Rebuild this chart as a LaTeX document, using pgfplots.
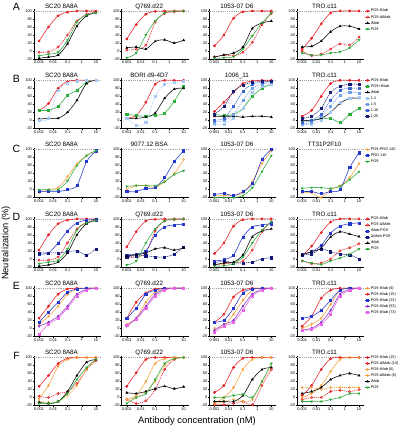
\documentclass[border=0pt]{standalone}
\usepackage{pgfplots}
\pgfplotsset{compat=1.18}
\usepackage{fontspec}
\setmainfont{Liberation Sans}

\definecolor{cRed}{RGB}{230,30,35}
\definecolor{cGreen}{RGB}{45,170,60}
\definecolor{cBlue}{RGB}{35,55,205}
\definecolor{cNavy}{RGB}{20,25,125}
\definecolor{cOrange}{RGB}{245,160,60}
\definecolor{cPurple}{RGB}{140,50,200}
\definecolor{cPink}{RGB}{230,100,230}
\definecolor{cLBa}{RGB}{165,200,240}
\definecolor{cLBb}{RGB}{115,160,230}
\definecolor{cLBc}{RGB}{60,100,210}
\definecolor{cLBd}{RGB}{20,30,120}

% x values are log10 of the concentration (nM): 0.001 ... 10
\newcommand\ser[8]{\addplot[#1] coordinates {(-3,#2) (-2.337,#3) (-1.658,#4) (-1,#5) (-0.337,#6) (0.342,#7) (1,#8)};}
\newcommand\hl{\addplot[forget plot, gray!70, line width=0.4pt, dash pattern=on 1.2pt off 1pt, mark=none, sharp plot] coordinates {(-3.357,100) (1.357,100)};}

\pgfplotsset{
 every axis plot/.append style={line width=0.55pt, mark size=1.1pt, smooth},
 dshA/.style={dash pattern=on 1.2pt off 0.8pt},
 stR/.style={cRed, mark=*, solid},
 stRo/.style={cRed, mark=o, dshA, mark options={solid, fill=white}},
 stK/.style={black, mark=triangle*, solid, mark options={solid}},
 stG/.style={cGreen, mark=triangle*, solid, mark options={solid, rotate=180}},
 stGm/.style={cGreen, mark=square*, solid, mark options={solid}},
 stBa/.style={cLBa, mark=square*, dshA, mark options={solid}},
 stBb/.style={cLBb, mark=square*, dshA, mark options={solid}},
 stBc/.style={cLBc, mark=square*, dshA, mark options={solid}},
 stBd/.style={cLBd, mark=square*, dshA, mark options={solid}},
 stO/.style={cOrange, mark=diamond, solid, mark options={solid, fill=white}},
 stP/.style={cBlue, mark=square*, solid, mark options={solid}},
 stN/.style={cNavy, mark=square*, dshA, mark options={solid}},
 stEa/.style={cOrange, mark=diamond*, solid},
 stEb/.style={cRed, mark=*, solid},
 stEc/.style={cBlue, mark=square*, solid},
 stEd/.style={cPurple, mark=diamond*, solid},
 stEe/.style={cPink, mark=square*, solid},
 stOf/.style={cOrange, mark=diamond*, solid},
 stOo/.style={cOrange, mark=diamond, dshA, mark options={solid, fill=white}},
 legend image code/.code={\draw[mark repeat=2,mark phase=2,#1] plot coordinates {(0pt,0pt) (2.6pt,0pt) (5.2pt,0pt)};},
 every axis title/.style={at={(0.41,1)}, anchor=base, yshift=0.9pt, inner sep=0pt, font=\fontsize{6.3}{7}\selectfont},
 every axis/.append style={
  scale only axis, width=67pt, height=50pt,
  xmin=-3.357, xmax=1.357, ymin=-20, ymax=105,
  axis x line*=bottom, axis y line*=left,
  axis line style={line width=0.5pt, -},
  xtick={-3,-2,-1,0,1}, xticklabels={0.001,0.01,0.1,1,10},
  ytick={-20,0,20,40,60,80,100},
  tick align=outside, major tick length=1.3pt, tick style={line width=0.4pt, black},
  tick label style={font=\fontsize{3.9}{4.2}\selectfont, inner sep=0.6pt},
  clip=false,
  legend style={at={(1.01,1.006)}, anchor=north west, draw=none, fill=none,
    font=\fontsize{3.8}{4.1}\selectfont, row sep=1.4pt, inner sep=0pt, outer sep=0pt,
    nodes={inner sep=0.4pt, text height=2.9pt, text depth=0.9pt}},
  legend cell align=left,
  yticklabel style={/pgf/number format/assume math mode=true},
  anchor=south west,
 },
}

\begin{document}
\begin{tikzpicture}[x=1pt,y=1pt]
\useasboundingbox (0,0) rectangle (402,-428);

% Row letters
\foreach \L/\Y in {A/7,B/79,C/149,D/217,E/286,F/356}{
  \node[font=\fontsize{10.5}{11}\selectfont] at (16.5,-\Y) {\L};
}
\node[rotate=90, font=\fontsize{9.3}{10}\selectfont] at (6,-243) {Neutralization (\%)};
\node[font=\fontsize{9.4}{10}\selectfont] at (197,-421) {Antibody concentration (nM)};

% ---------------- Row A ----------------
\begin{axis}[at={(34pt,-59pt)}, title={SC20 8A8A}]
\hl
\ser{stR}{25}{60}{88}{97}{100}{100}{100}
\ser{stRo}{-3}{-2}{10}{40}{75}{92}{97}
\ser{stK}{-18}{-15}{-10}{18}{62}{88}{96}
\ser{stG}{-12}{-8}{-3}{27}{72}{90}{96}
\end{axis}
\begin{axis}[at={(121.7pt,-59pt)}, title={Q769.d22}]
\hl
\ser{stR}{30}{66}{92}{99}{100}{100}{100}
\ser{stRo}{3}{4}{15}{72}{94}{98}{100}
\ser{stK}{8}{10}{5}{24}{28}{20}{27}
\ser{stG}{-17}{-5}{40}{75}{95}{99}{100}
\end{axis}
\begin{axis}[at={(209.4pt,-59pt)}, title={1053-07 D6}]
\hl
\ser{stR}{13}{40}{82}{98}{100}{100}{100}
\ser{stRo}{-15}{-10}{-12}{-3}{22}{65}{94}
\ser{stK}{-15}{-10}{-5}{10}{56}{70}{75}
\ser{stG}{-18}{-17}{-14}{5}{38}{70}{95}
\end{axis}
\begin{axis}[at={(297.1pt,-59pt)}, title={TRO.c11},
  legend entries={PG9-iMab, PG9-ΔiMab, iMab, PG9}]
\hl
\ser{stR}{5}{32}{68}{95}{100}{100}{100}
\ser{stRo}{0}{-12}{-8}{5}{18}{15}{35}
\ser{stK}{10}{12}{25}{48}{62}{62}{55}
\ser{stG}{-5}{-10}{-10}{-5}{-2}{8}{28}
\end{axis}

% ---------------- Row B ----------------
\begin{axis}[at={(34pt,-128.3pt)}, title={SC20 8A8A}]
\hl
\ser{stR}{25}{42}{80}{97}{100}{100}{100}
\ser{stGm}{25}{25}{35}{62}{75}{95}{100}
\ser{stK}{3}{5}{5}{20}{50}{92}{100}
\ser{stBa}{0}{5}{75}{92}{98}{100}{100}
\end{axis}
\begin{axis}[at={(121.7pt,-128.3pt)}, title={BORI d9-4D7}]
\hl
\ser{stR}{5}{12}{45}{90}{100}{100}{100}
\ser{stGm}{15}{12}{10}{12}{18}{48}{86}
\ser{stK}{5}{5}{8}{18}{55}{78}{80}
\ser{stBa}{5}{-12}{-5}{60}{90}{95}{97}
\end{axis}
\begin{axis}[at={(209.4pt,-128.3pt)}, title={1006\_11}]
\hl
\ser{stR}{22}{45}{70}{92}{98}{100}{100}
\ser{stGm}{15}{12}{15}{30}{60}{80}{90}
\ser{stK}{10}{10}{10}{8}{10}{10}{8}
\ser{stBa}{-10}{-10}{5}{30}{70}{85}{90}
\ser{stBb}{-5}{0}{15}{50}{80}{90}{95}
\ser{stBc}{0}{5}{35}{72}{90}{95}{97}
\ser{stBd}{15}{35}{72}{88}{95}{97}{98}
\end{axis}
\begin{axis}[at={(297.1pt,-128.3pt)}, title={TRO.c11},
  legend entries={PG9-iMab, PG9+iMab, iMab, 1:1, 1:5, 1:10, 1:25}]
\hl
\ser{stR}{10}{25}{60}{92}{100}{100}{100}
\ser{stGm}{0}{0}{3}{5}{-5}{15}{30}
\ser{stK}{0}{0}{5}{20}{42}{55}{55}
\ser{stBa}{-10}{-10}{0}{20}{45}{55}{57}
\ser{stBb}{-10}{-5}{10}{35}{62}{70}{68}
\ser{stBc}{-5}{0}{15}{50}{75}{80}{80}
\ser{stBd}{5}{10}{30}{70}{85}{90}{90}
\end{axis}

% ---------------- Row C ----------------
\begin{axis}[at={(34pt,-197.6pt)}, title={SC20 8A8A}]
\hl
\ser{stO}{-8}{0}{5}{32}{65}{85}{97}
\ser{stP}{-5}{-5}{-5}{0}{10}{70}{97}
\ser{stG}{0}{0}{0}{22}{60}{85}{97}
\end{axis}
\begin{axis}[at={(121.7pt,-197.6pt)}, title={9077.12 BSA}]
\hl
\ser{stO}{0}{10}{10}{5}{20}{40}{75}
\ser{stP}{-5}{-5}{3}{5}{30}{70}{97}
\ser{stG}{8}{10}{10}{10}{20}{38}{47}
\end{axis}
\begin{axis}[at={(209.4pt,-197.6pt)}, title={1053-07 D6}]
\hl
\ser{stO}{-15}{-15}{-15}{-8}{20}{65}{97}
\ser{stP}{-12}{-10}{-15}{-5}{15}{75}{100}
\ser{stG}{-20}{-20}{-20}{-15}{5}{45}{85}
\end{axis}
\begin{axis}[at={(297.1pt,-197.6pt)}, title={TT31P2F10},
  legend entries={PG9-PRO 140, PRO 140, PG9}]
\hl
\ser{stO}{-8}{-8}{-20}{0}{10}{30}{65}
\ser{stP}{-5}{-5}{-10}{-5}{0}{55}{92}
\ser{stG}{3}{5}{5}{3}{8}{25}{45}
\end{axis}

% ---------------- Row D ----------------
\begin{axis}[at={(34pt,-266.9pt)}, title={SC20 8A8A}]
\hl
\ser{stR}{22}{60}{88}{97}{100}{100}{100}
\ser{stRo}{-3}{-3}{5}{40}{75}{92}{97}
\ser{stP}{12}{15}{40}{70}{90}{97}{98}
\ser{stN}{15}{15}{15}{18}{20}{10}{25}
\ser{stK}{-18}{-15}{-8}{15}{60}{88}{96}
\ser{stG}{-12}{-8}{-3}{25}{72}{90}{96}
\end{axis}
\begin{axis}[at={(121.7pt,-266.9pt)}, title={Q769.d22}]
\hl
\ser{stR}{30}{68}{95}{99}{100}{100}{100}
\ser{stRo}{3}{5}{15}{70}{95}{98}{100}
\ser{stP}{10}{12}{20}{60}{80}{85}{87}
\ser{stN}{5}{8}{8}{5}{5}{12}{30}
\ser{stK}{8}{10}{15}{25}{28}{22}{28}
\ser{stG}{-15}{-5}{40}{75}{95}{99}{100}
\end{axis}
\begin{axis}[at={(209.4pt,-266.9pt)}, title={1053-07 D6}]
\hl
\ser{stR}{13}{40}{82}{98}{100}{100}{100}
\ser{stRo}{-15}{-12}{-10}{-5}{22}{68}{93}
\ser{stP}{-5}{-2}{10}{55}{80}{85}{88}
\ser{stN}{-10}{-5}{-10}{-10}{-8}{0}{3}
\ser{stK}{-15}{-10}{-8}{10}{55}{70}{75}
\ser{stG}{-18}{-17}{-12}{5}{40}{72}{93}
\end{axis}
\begin{axis}[at={(297.1pt,-266.9pt)}, title={TRO.c11},
  legend entries={PG9-iMab, PG9-ΔiMab, iMab-PG9, ΔiMab-PG9, iMab, PG9}]
\hl
\ser{stR}{8}{32}{66}{92}{100}{100}{100}
\ser{stRo}{-5}{-12}{-10}{0}{20}{28}{38}
\ser{stP}{12}{18}{34}{65}{82}{88}{90}
\ser{stN}{10}{12}{25}{18}{12}{10}{0}
\ser{stK}{10}{18}{27}{55}{68}{62}{56}
\ser{stG}{-5}{-10}{-14}{-5}{2}{12}{25}
\end{axis}

% ---------------- Row E ----------------
\begin{axis}[at={(34pt,-336.2pt)}, title={SC20 8A8A}]
\hl
\ser{stEa}{10}{30}{55}{85}{97}{100}{100}
\ser{stEb}{25}{55}{85}{98}{100}{100}{100}
\ser{stEc}{15}{40}{65}{90}{98}{100}{100}
\ser{stEd}{5}{15}{30}{55}{85}{97}{100}
\ser{stEe}{-15}{10}{25}{50}{80}{95}{100}
\end{axis}
\begin{axis}[at={(121.7pt,-336.2pt)}, title={Q769.d22}]
\hl
\ser{stEa}{10}{25}{65}{90}{98}{100}{100}
\ser{stEb}{25}{65}{88}{98}{100}{100}{100}
\ser{stEc}{25}{50}{85}{95}{100}{100}{100}
\ser{stEd}{5}{25}{55}{85}{97}{100}{100}
\ser{stEe}{8}{22}{50}{80}{95}{100}{100}
\end{axis}
\begin{axis}[at={(209.4pt,-336.2pt)}, title={1053-07 D6}]
\hl
\ser{stEa}{0}{5}{35}{70}{95}{100}{100}
\ser{stEb}{15}{35}{78}{95}{100}{100}{100}
\ser{stEc}{15}{20}{50}{88}{98}{100}{100}
\ser{stEd}{-5}{10}{20}{55}{85}{97}{100}
\ser{stEe}{-10}{5}{15}{45}{80}{95}{100}
\end{axis}
\begin{axis}[at={(297.1pt,-336.2pt)}, title={TRO.c11},
  legend entries={PG9-iMab (6), PG9-iMab (15), PG9-iMab (22), PG9-iMab (53), PG9-iMab (73)}]
\hl
\ser{stEa}{0}{10}{25}{60}{95}{100}{100}
\ser{stEb}{5}{30}{75}{95}{100}{100}{100}
\ser{stEc}{25}{30}{45}{70}{95}{100}{100}
\ser{stEd}{-5}{0}{15}{45}{85}{97}{100}
\ser{stEe}{-5}{-3}{10}{35}{80}{95}{100}
\end{axis}

% ---------------- Row F ----------------
\begin{axis}[at={(34pt,-405.5pt)}, title={SC20 8A8A}]
\hl
\ser{stR}{28}{55}{85}{98}{100}{100}{100}
\ser{stRo}{3}{0}{10}{15}{35}{70}{92}
\ser{stOf}{-3}{30}{78}{95}{100}{100}{100}
\ser{stOo}{-10}{-12}{-10}{5}{30}{70}{95}
\ser{stK}{-12}{-15}{-10}{15}{55}{88}{95}
\ser{stG}{-15}{-15}{-10}{10}{45}{75}{95}
\end{axis}
\begin{axis}[at={(121.7pt,-405.5pt)}, title={Q769.d22}]
\hl
\ser{stR}{28}{62}{95}{100}{100}{100}{100}
\ser{stRo}{-5}{-15}{-8}{20}{70}{95}{100}
\ser{stOf}{-5}{5}{40}{85}{97}{100}{100}
\ser{stOo}{-5}{0}{15}{40}{80}{97}{100}
\ser{stK}{12}{10}{15}{22}{28}{22}{27}
\ser{stG}{-15}{0}{10}{45}{85}{97}{100}
\end{axis}
\begin{axis}[at={(209.4pt,-405.5pt)}, title={1053-07 D6}]
\hl
\ser{stR}{13}{30}{75}{98}{100}{100}{100}
\ser{stRo}{-18}{-18}{-15}{-10}{-18}{30}{70}
\ser{stOf}{-15}{0}{25}{70}{95}{100}{100}
\ser{stOo}{-15}{-10}{-5}{-10}{-5}{40}{75}
\ser{stK}{-10}{-10}{-10}{5}{45}{70}{75}
\ser{stG}{0}{0}{5}{8}{0}{40}{85}
\end{axis}
\begin{axis}[at={(297.1pt,-405.5pt)}, title={TRO.c11},
  legend entries={PG9-iMab (15), PG9-ΔiMab (15), PG9-iMab (6), PG9-ΔiMab (6), iMab, PG9}]
\hl
\ser{stR}{5}{30}{70}{97}{100}{100}{100}
\ser{stRo}{-5}{0}{0}{15}{18}{15}{20}
\ser{stOf}{0}{10}{30}{65}{95}{100}{100}
\ser{stOo}{25}{25}{20}{25}{25}{25}{25}
\ser{stK}{10}{15}{25}{45}{55}{60}{55}
\ser{stG}{-10}{-10}{-10}{-5}{0}{10}{10}
\end{axis}
\end{tikzpicture}
\end{document}
